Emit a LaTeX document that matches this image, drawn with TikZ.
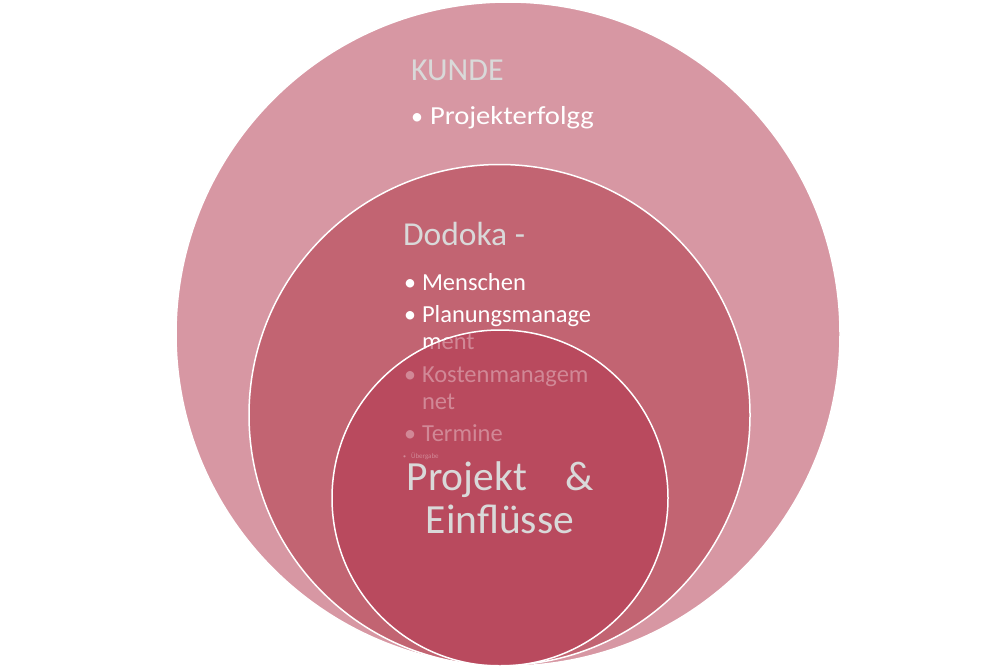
\documentclass[tikz,border=0pt]{standalone}
\usepackage{graphicx}
\usepackage{fontspec}
\setmainfont{Carlito}
\definecolor{outerc}{RGB}{215,151,163}
\definecolor{midc}{RGB}{194,100,114}
\definecolor{innerc}{RGB}{179,57,81}
\definecolor{headc}{RGB}{217,217,217}
\begin{document}
\begin{tikzpicture}[x=1pt,y=-1pt,
  ring/.style={draw=white,line width=1.5pt},
  txt/.style={anchor=base west,inner sep=0pt,outer sep=0pt},
  head/.style={txt,text=headc},
  item/.style={txt,text=white,font=\fontsize{24.5}{29}\selectfont},
  bul/.style={txt,text=white,font=\fontsize{24}{29}\selectfont}]
\useasboundingbox (0,0) rectangle (1000,669);
% outer circle
\node[ring,circle,fill=outerc,minimum size=664pt,inner sep=0pt] (outer) at (508,334) {};
\node[head,font=\fontsize{32}{38}\selectfont] (kunde) at (411,81) {KUNDE};
\node[bul] (b0) at (411,124) {•};
\node[item,font=\fontsize{26}{31}\selectfont] (erfolg) at (430,124) {\scalebox{1.1}[1]{Projekterfolgg}};
% middle circle
\node[ring,circle,fill=midc,minimum size=501pt,inner sep=0pt] (middle) at (499.5,415) {};
\node[head,font=\fontsize{33.5}{40}\selectfont] (dodoka) at (403,245) {Dodoka -};
\node[bul] (b1) at (404,290) {•};
\node[item] (menschen) at (422,290) {Menschen};
\node[bul] (b2) at (404,322) {•};
\node[item] (plan1) at (422,322) {Planungsmanage};
\node[item] (plan2) at (422,349) {ment};
\node[bul] (b3) at (404,382) {•};
\node[item] (kost1) at (422,382) {Kostenmanagem};
\node[item] (kost2) at (422,409) {net};
\node[bul] (b4) at (404,441) {•};
\node[item] (termine) at (422,441) {Termine};
\node[txt,text=white,font=\fontsize{6}{7}\selectfont] (b5) at (403,458) {•};
\node[txt,text=white,font=\fontsize{7}{8}\selectfont] (uebergabe) at (411,458) {Übergabe};
% inner circle
\fill[innerc,fill opacity=0.6] (500,498) circle (168);
\node[ring,circle,minimum size=336pt,inner sep=0pt] (inner) at (500,498) {};
\node[head,font=\fontsize{41.5}{46}\selectfont,anchor=base] (proj) at (500,490) {Projekt\hspace{38pt}\&};
\node[head,font=\fontsize{41.5}{46}\selectfont,anchor=base] (einfl) at (500,533) {Einflüsse};
\end{tikzpicture}
\end{document}
